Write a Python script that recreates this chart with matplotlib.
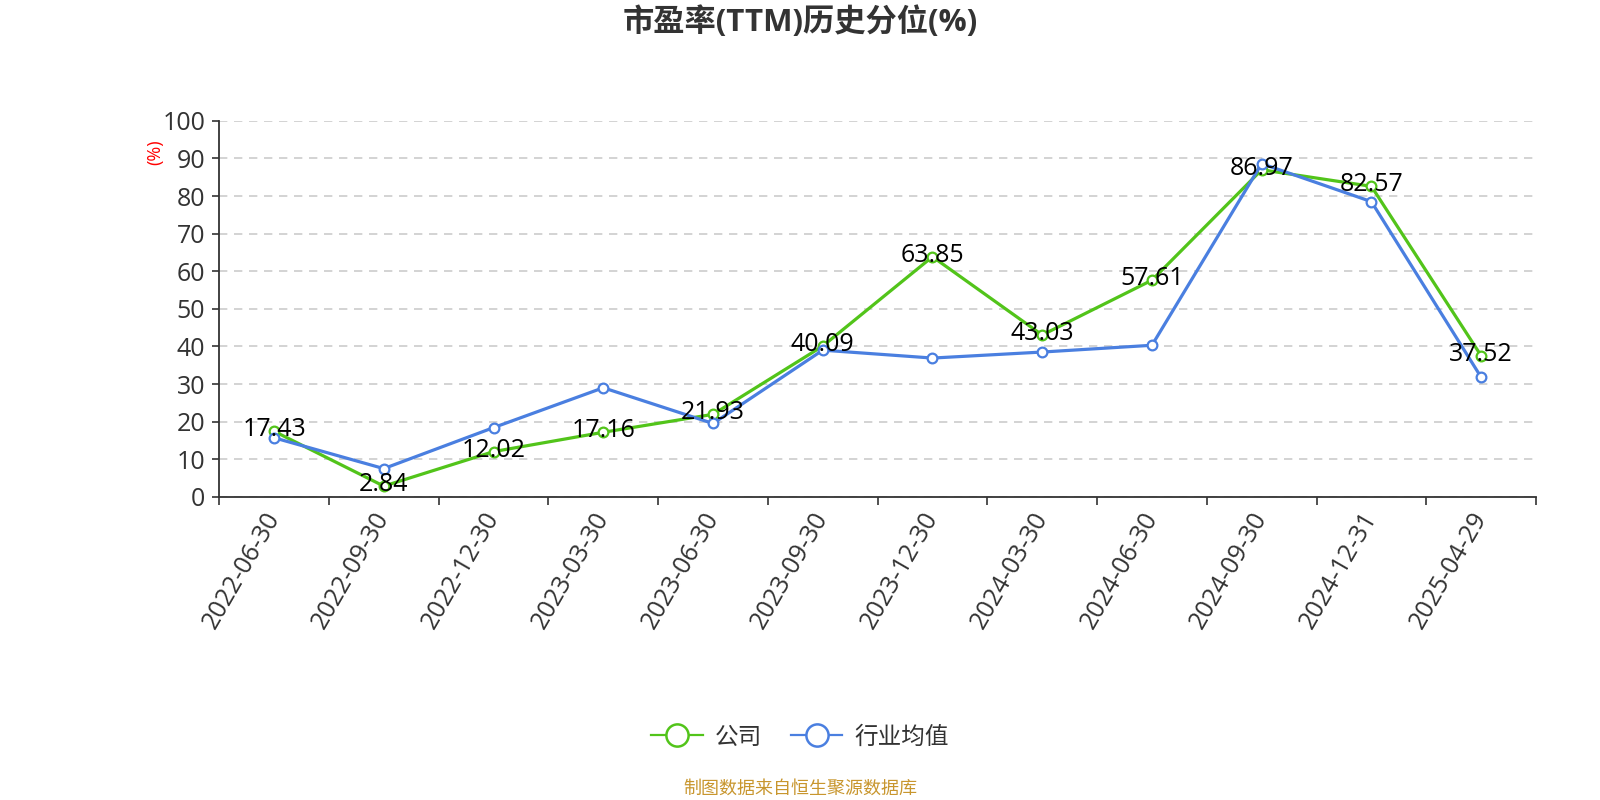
import numpy as np
import matplotlib
matplotlib.use('Agg')
import matplotlib.pyplot as plt
from matplotlib.lines import Line2D

plt.rcParams['font.family'] = ['Open Sans', 'Noto Sans CJK SC', 'DejaVu Sans']

dates = ['2022-06-30', '2022-09-30', '2022-12-30', '2023-03-30', '2023-06-30', '2023-09-30',
         '2023-12-30', '2024-03-30', '2024-06-30', '2024-09-30', '2024-12-31', '2025-04-29']
company = [17.43, 2.84, 12.02, 17.16, 21.93, 40.09, 63.85, 43.03, 57.61, 86.97, 82.57, 37.52]
industry = [15.7, 7.5, 18.4, 29.0, 19.5, 39.0, 36.9, 38.5, 40.3, 88.6, 78.5, 31.8]

green = '#52c41a'
blue = '#4a7fe0'
text_c = '#333333'

fig = plt.figure(figsize=(16, 8), dpi=100)
ax = fig.add_axes([0.137, 0.379, 0.823, 0.47])

x = np.arange(len(dates))
ax.plot(x, company, color=green, lw=2.3, marker='o', ms=7, mfc='white', mec=green, mew=1.6, zorder=3)
ax.plot(x, industry, color=blue, lw=2.3, marker='o', ms=7, mfc='white', mec=blue, mew=1.6, zorder=4)

for xi, v in zip(x, company):
    ax.annotate(f'{v:.2f}', (xi, v), xytext=(0, 1), textcoords='offset points',
                ha='center', va='center', fontsize=18, color='black', zorder=6)

ax.set_xlim(-0.5, len(dates) - 0.5)
ax.set_ylim(0, 100)
ax.set_yticks(np.arange(0, 101, 10))
ax.tick_params(axis='y', labelsize=18, colors=text_c, length=5, width=1.2, pad=5)
ax.yaxis.grid(True, linestyle=(0, (5, 4)), color='#cccccc', lw=1.2)
ax.set_axisbelow(True)

ax.set_xticks(np.arange(-0.5, len(dates), 1))
ax.set_xticklabels([])
ax.set_xticks(x, minor=True)
ax.set_xticklabels(dates, minor=True, rotation=60, ha='right', va='center',
                   rotation_mode='anchor', fontsize=18, color=text_c)
ax.tick_params(axis='x', which='major', length=6, width=1.2, colors=text_c)
ax.tick_params(axis='x', which='minor', length=0, pad=12)

for s in ['top', 'right']:
    ax.spines[s].set_visible(False)
for s in ['left', 'bottom']:
    ax.spines[s].set_color(text_c)
    ax.spines[s].set_linewidth(1.3)

fig.text(0.097, 0.81, '(%)', color='red', fontsize=13, rotation=90, ha='center', va='center')
fig.text(0.5, 0.972, '市盈率(TTM)历史分位(%)', fontsize=22.5, fontweight='bold',
         color=text_c, ha='center', va='center')

handles = [Line2D([0], [0], color=green, lw=1.6, marker='o', ms=16, mfc='white', mec=green, mew=1.8),
           Line2D([0], [0], color=blue, lw=1.6, marker='o', ms=16, mfc='white', mec=blue, mew=1.8)]
fig.legend(handles, ['公司', '行业均值'], loc='center', bbox_to_anchor=(0.5, 0.078), ncol=2,
           frameon=False, fontsize=17, labelcolor=text_c, handlelength=2.2, columnspacing=1.2,
           handletextpad=0.5)

fig.text(0.5, 0.014, '制图数据来自恒生聚源数据库', color='#c8962e', fontsize=13,
         ha='center', va='center')

fig.savefig('out.png', dpi=100)
